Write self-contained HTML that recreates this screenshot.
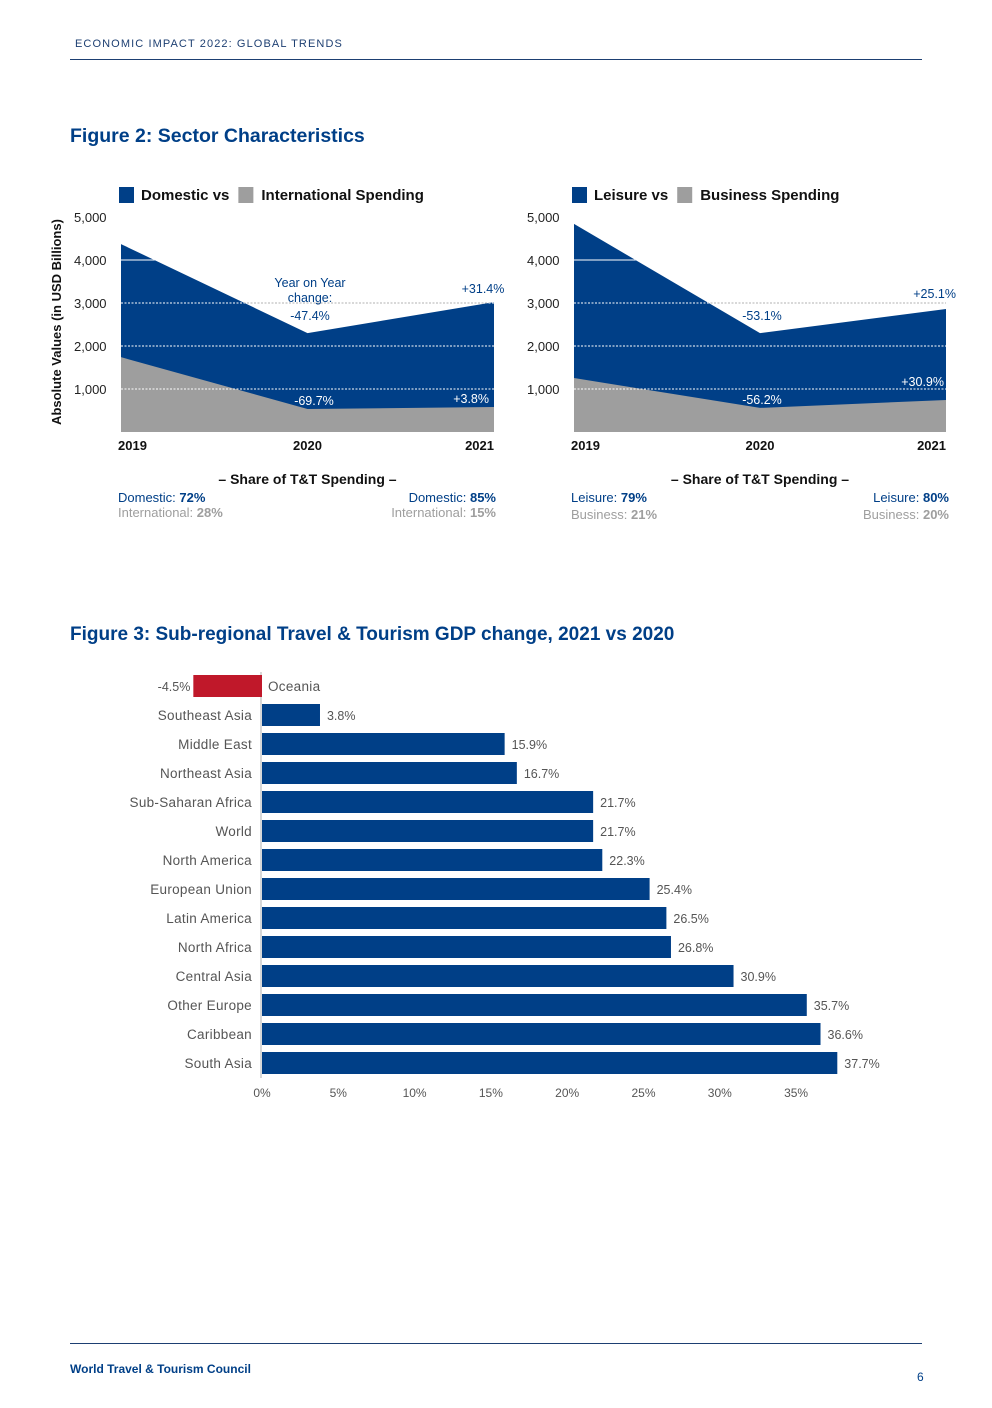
<!DOCTYPE html>
<html><head><meta charset="utf-8"><style>
body{margin:0;background:#fff;}
svg text{font-family:"Liberation Sans",sans-serif;}
</style></head><body>
<svg id="page" width="992" height="1403" viewBox="0 0 992 1403" xmlns="http://www.w3.org/2000/svg">
<defs id="defs"></defs>
<text x="75" y="47" font-size="11" fill="#1d3f72" letter-spacing="1.1">ECONOMIC IMPACT 2022: GLOBAL TRENDS</text>
<line x1="70" y1="59.5" x2="922" y2="59.5" stroke="#1d3f72" stroke-width="1"/>
<text x="70" y="142" font-size="19.5" font-weight="bold" fill="#003f87">Figure 2: Sector Characteristics</text>
<text transform="translate(61,322) rotate(-90)" text-anchor="middle" font-size="13" font-weight="bold" fill="#111">Absolute Values (in USD Billions)</text>
<g id="charts"></g>
<text x="70" y="640" font-size="19" font-weight="bold" fill="#003f87">Figure 3: Sub-regional Travel &amp; Tourism GDP change, 2021 vs 2020</text>
<g id="bars"></g>
<line x1="70" y1="1343.5" x2="922" y2="1343.5" stroke="#1d3f72" stroke-width="1"/>
<text x="70" y="1373" font-size="12" font-weight="bold" fill="#003f87">World Travel &amp; Tourism Council</text>
<text x="917" y="1381" font-size="12" fill="#003f87">6</text>
</svg>
<script>
const NS="http://www.w3.org/2000/svg";
const years=["2019","2020","2021"];
const domTop=[4370,2300,3020];
const intlVals=[1740,535,580];
const leisTop=[4840,2300,2860];
const busVals=[1255,560,745];
const yTicks=[1000,2000,3000,4000,5000];
const categories=["Oceania","Southeast Asia","Middle East","Northeast Asia","Sub-Saharan Africa","World","North America","European Union","Latin America","North Africa","Central Asia","Other Europe","Caribbean","South Asia"];
const gdpChange=[-4.5,3.8,15.9,16.7,21.7,21.7,22.3,25.4,26.5,26.8,30.9,35.7,36.6,37.7];
const xTicks=[0,5,10,15,20,25,30,35];

function el(tag,attrs,parent,txt){const e=document.createElementNS(NS,tag);for(const k in attrs)e.setAttribute(k,attrs[k]);if(txt!==undefined)e.textContent=txt;parent.appendChild(e);return e;}

const charts=document.getElementById('charts');
const defs=document.getElementById('defs');
function areaChart(x0,x1,top,bottom,legA,legB,ann,shares,pfx){
  const y=v=>432-v*(215/5000);
  const x=i=>x0+i*(x1-x0)/2;
  const g=el('g',{},charts);
  
  
  let r=el('rect',{x:x0-2,y:187,width:15,height:16,fill:'#003f87'},g);
  
  let t=el('text',{x:x0+20,y:200,'font-size':15,'font-weight':'bold',fill:'#111'},g,legA);
  
  const w=t.getComputedTextLength();
  r=el('rect',{x:x0+29+w,y:187,width:15,height:16,fill:'#9e9e9e'},g);
  
  t=el('text',{x:x0+52+w,y:200,'font-size':15,'font-weight':'bold',fill:'#111'},g,legB);
  
  // gray 3000 line behind area
  let l3=el('line',{x1:x0,x2:x1,y1:y(3000),y2:y(3000),stroke:'#999','stroke-width':0.8,'stroke-dasharray':'2,1.5'},g);
  
  let d='M'+x(0)+','+y(0);top.forEach((v,i)=>d+=' L'+x(i)+','+y(v));d+=' L'+x(2)+','+y(0)+'Z';
  let p=el('path',{d:d,fill:'#003f87'},g);
  const cp=el('clipPath',{id:pfx+'-clip'},defs);el('path',{d:d},cp);
  let d2='M'+x(0)+','+y(0);bottom.forEach((v,i)=>d2+=' L'+x(i)+','+y(v));d2+=' L'+x(2)+','+y(0)+'Z';
  p=el('path',{d:d2,fill:'#9e9e9e'},g);
  const gg=el('g',{'clip-path':'url(#'+pfx+'-clip)'},g);
  yTicks.forEach(v=>{
    if(v<5000){const l=el('line',{x1:x0,x2:x1,y1:y(v),y2:y(v),stroke:'#fff','stroke-width':0.9,'stroke-dasharray':v===4000?'':'2,1.5'},gg);
      }
    const tt=el('text',{x:x0-47,y:y(v)+5,'font-size':13,fill:'#222'},g,v.toLocaleString('en-US'));
    
  });
  years.forEach((yr,i)=>{const tt=el('text',{x:i===0?x0-3:(i===2?x1:x(i)),y:450,'font-size':13,'font-weight':'bold',fill:'#111','text-anchor':i===0?'start':(i===2?'end':'middle')},g,yr);
    });
  ann.forEach(a=>{const tt=el('text',{x:a[0],y:a[1],'font-size':12.5,fill:a[3],'text-anchor':a[4]||'middle'},g,a[2]);
    });
  const cx=(x0+x1)/2;
  t=el('text',{x:cx,y:484,'font-size':14,'font-weight':'bold',fill:'#111','text-anchor':'middle'},g,'– Share of T&T Spending –');
  
  shares.forEach(s=>{const tt=el('text',{x:s[0],y:s[1],'font-size':13,fill:s[4],'text-anchor':s[5]},g);
    
    el('tspan',{},tt,s[2]);el('tspan',{'font-weight':'bold'},tt,s[3]);});
}
areaChart(121,494,domTop,intlVals,'Domestic vs','International Spending',
 [[310,287,'Year on Year','#003f87'],[310,302,'change:','#003f87'],[310,320,'-47.4%','#003f87'],[483,293,'+31.4%','#003f87'],[314,405,'-69.7%','#fff'],[489,403,'+3.8%','#fff','end']],
 [[118,502,'Domestic: ','72%','#003f87','start'],[118,517,'International: ','28%','#9e9e9e','start'],[496,502,'Domestic: ','85%','#003f87','end'],[496,517,'International: ','15%','#9e9e9e','end']],'left');
areaChart(574,946,leisTop,busVals,'Leisure vs','Business Spending',
 [[762,320,'-53.1%','#003f87'],[956,298,'+25.1%','#003f87','end'],[762,404,'-56.2%','#fff'],[944,386,'+30.9%','#fff','end']],
 [[571,502,'Leisure: ','79%','#003f87','start'],[571,519,'Business: ','21%','#9e9e9e','start'],[949,502,'Leisure: ','80%','#003f87','end'],[949,519,'Business: ','20%','#9e9e9e','end']],'right');

const bars=document.getElementById('bars');
const bx=v=>262+v*15.26;
const rowY=i=>686+i*29;
let ax=el('line',{x1:261,x2:261,y1:672,y2:1078,stroke:'#ccc','stroke-width':1.5},bars);

categories.forEach((c,i)=>{
  const v=gdpChange[i],cy=rowY(i);
  const r=el('rect',{x:Math.min(bx(0),bx(v)),y:cy-11,width:Math.abs(bx(v)-bx(0)),height:22,fill:v<0?'#c0182a':'#003f87'},bars);
  
  
  const lab=el('text',{x:v<0?bx(0)+6:252,y:cy+5,'font-size':13.5,fill:'#555','text-anchor':v<0?'start':'end','letter-spacing':0.3},bars,c);
  
  
  const val=el('text',{x:v<0?bx(v)-3:bx(v)+7,y:cy+5,'font-size':12.5,fill:'#555','text-anchor':v<0?'end':'start'},bars,v.toFixed(1)+'%');
  
  
});
xTicks.forEach(t=>{
  const tt=el('text',{x:bx(t),y:1097,'font-size':12,fill:'#555','text-anchor':'middle'},bars,t+'%');
  
  
});
</script>
</body></html>
